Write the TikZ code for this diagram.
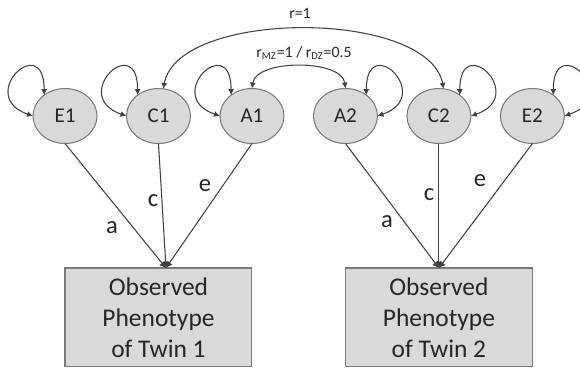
\documentclass[tikz,border=0pt]{standalone}
\usepackage{fontspec}
\setmainfont{Carlito}
\usetikzlibrary{positioning, arrows.meta, calc, shapes.geometric}
\definecolor{Twin_Fill}{HTML}{D9D9D9}
\definecolor{Twin_Edge}{HTML}{7A7A7A}
\definecolor{Twin_Line}{HTML}{404040}
\definecolor{Twin_Text}{HTML}{262626}

\begin{document}
\begin{tikzpicture}[
  x=0.02cm, y=-0.02cm,
  every node/.style={text=Twin_Text, inner sep=0pt, outer sep=0pt},
  lnode/.style={ellipse, draw=Twin_Edge, fill=Twin_Fill, line width=0.6pt, minimum width=1.28cm, minimum height=1.1cm, font=\fontsize{12}{14}\selectfont},
  pnode/.style={rectangle, draw=Twin_Edge, fill=Twin_Fill, line width=0.6pt, minimum width=3.74cm, minimum height=1.98cm, align=center, font=\fontsize{14.5}{17.6}\selectfont},
  plab/.style={font=\fontsize{14}{16}\selectfont},
  rlab/.style={font=\fontsize{9}{11}\selectfont},
  arr/.style={-{Latex[length=3.6pt, width=4pt]}, line width=0.6pt, Twin_Line},
  vloop/.style={{Latex[length=3.4pt, width=3.4pt]}-{Latex[length=3.4pt, width=3.4pt]}, line width=0.6pt, Twin_Line}
]
  \clip (0,0) rectangle (580,369);

  % Twin 1: latent factors
  \node[lnode] (E1) at (65,116) {E1};
  \node[lnode, right=0.59cm of E1] (C1) {C1};
  \node[lnode, right=0.59cm of C1] (A1) {A1};
  % Twin 2: latent factors
  \node[lnode, right=0.59cm of A1] (A2) {A2};
  \node[lnode, right=0.59cm of A2] (C2) {C2};
  \node[lnode, right=0.59cm of C2] (E2) {E2};

  % Observed phenotypes
  \node[pnode, below=2.49cm of C1] (ph1) {Observed\\Phenotype\\of Twin 1};
  \node[pnode, below=2.49cm of C2] (ph2) {Observed\\Phenotype\\of Twin 2};
  \coordinate (j1) at ($(ph1.north)+(7.5,0)$);
  \coordinate (j2) at (ph2.north);

  % Variances
  \draw[vloop] (E1.west) .. controls +(-58,-20) and +(0,-65) .. (E1.135);
  \draw[vloop] (C1.west) .. controls +(-58,-20) and +(0,-65) .. (C1.135);
  \draw[vloop] (A1.west) .. controls +(-58,-20) and +(0,-65) .. (A1.135);
  \draw[vloop] (A2.east) .. controls +(58,-20) and +(0,-65) .. (A2.45);
  \draw[vloop] (C2.east) .. controls +(58,-20) and +(0,-65) .. (C2.45);
  \draw[vloop] (E2.east) .. controls +(58,-20) and +(0,-65) .. (E2.45);

  % Covariances between twins
  \draw[vloop] (C1.80) .. controls (178,9) and (428,9) .. (C2.80);
  \draw[vloop] (A1.north) .. controls (256,59) and (342,59) .. (A2.north);
  \node[rlab] (rc) at (300,13) {r=1};
  \node[rlab] (ra) at (304,53) {r\textsubscript{MZ}=1 / r\textsubscript{DZ}=0.5};

  % Paths to Twin 1
  \draw[arr] (E1.south) -- (j1);
  \draw[arr] (C1.south) -- (j1);
  \draw[arr] (A1.south) -- (j1);
  \node[plab] (a1) at (112,228) {a};
  \node[plab] (c1) at (153,201) {c};
  \node[plab] (e1) at (205,186) {e};

  % Paths to Twin 2
  \draw[arr] (A2.south) -- (j2);
  \draw[arr] (C2.south) -- (j2);
  \draw[arr] (E2.south) -- (j2);
  \node[plab] (a2) at (387,222) {a};
  \node[plab] (c2) at (429,195) {c};
  \node[plab] (e2) at (480,181) {e};
\end{tikzpicture}
\end{document}
